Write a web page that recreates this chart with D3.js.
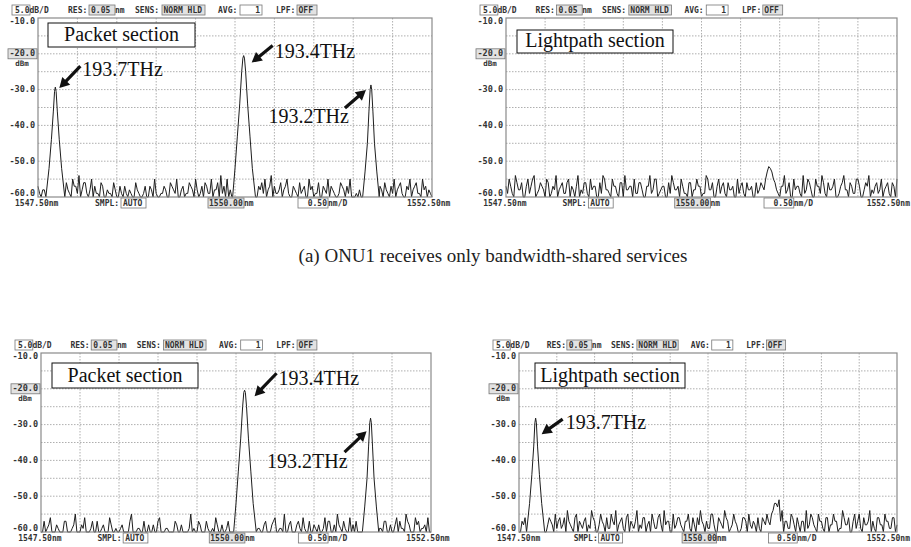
<!DOCTYPE html>
<html><head><meta charset="utf-8">
<script src="https://cdn.jsdelivr.net/npm/d3@7"></script>
<style>body{margin:0;background:#fff}svg{display:block}</style>
</head><body>
<svg id="c" width="911" height="547"></svg>
<script>
// ---------- data ----------
const wlDomain = [1547.5, 1552.5];
const dbDomain = [-60, -10];
const yTickValues = [-10, -20, -30, -40, -50, -60];
const yTickLabels = ["-10.0", "-20.0", "-30.0", "-40.0", "-50.0", "-60.0"];
const headerTexts = ["5.0", "dB/D", "RES:", "0.05", "nm", "SENS:", "NORM HLD", "AVG:", "1", "LPF:", "OFF"];
const bottomTexts = ["1547.50nm", "SMPL:", "AUTO", "1550.00", "nm", "0.50", "nm/D", "1552.50nm"];
const unitLabel = "dBm";
const boxLabels = ["Packet section", "Lightpath section", "Packet section", "Lightpath section"];
const caption = "(a) ONU1 receives only bandwidth-shared services";

// noise floor samples on a 0.04 nm grid (1547.50 - 1552.50 nm)
const noiseTL = [
-57,-60,-58,
-60,-60,-60,-60,-60,-60,
-56,-59,-55,-57,-54,-58,-56,-60,-55,-57,-59,-56,
-60,-58,-59,-56,-60,-57,-60,-59,-58,-60,-56,-59,-60,-57,-60,-58,-55,-60,-59,-57,
-60,-56,-58,-55,-60,-57,-59,-56,-58,-55,-60,-57,-56,-59,-55,-58,-56,-54,-57,-55,-58,
-60,-60,-60,-60,-60,-60,-60,
-60,-57,-56,-55,-58,-54,-57,-59,-56,-58,-55,-60,-57,-59,-56,-58,-60,-55,-57,-59,-56,-60,-58,-55,-57,-59,-60,-56,-58,-57,-55,-60,-59,-58,
-60,-60,-60,-60,-60,
-60,-58,-56,-59,-57,-55,-58,-56,-60,-57,-55,-58,-56,-59,-55,-57,-58,-60];
const noiseTR = [
-57,-55,-59,-54,-58,-56,-60,-55,-57,-54,-59,-56,-58,-55,-60,-57,-54,-58,-56,-59,
-55,-57,-60,-54,-58,-56,-59,-55,-57,-60,-56,-54,-58,-59,-55,-57,-60,-56,-54,-58,
-57,-55,-59,-56,-60,-57,-54,-58,-55,-59,-57,-60,-56,-54,-58,-57,-55,-59,-60,-56,
-58,-55,-57,-59,-54,-58,-56,-60,-55,-57,-59,-56,-58,-60,-55,-57,-59,-56,-58,-60,
-56,-58,-57,-55,-51.5,-53,-56,-59,-57,-54,-58,-60,-55,-57,-59,-54,-58,-56,-60,-55,
-57,-54,-59,-56,-58,-55,-60,-57,-54,-58,-56,-59,-55,-57,-60,-56,-54,-58,-57,-59,
-55,-58,-56,-60,-57,-55];
const noiseBL = [
-60,-57,-59,-56,-60,-58,-60,-60,-57,-60,-59,-55,-60,-58,-56,-60,-59,-60,-57,-60,-58,
-60,-56,-60,-59,-60,-58,-60,-60,-55,-60,-59,-60,-57,-60,-60,-58,-60,-56,-60,-59,-60,-60,-57,-60,-58,-60,-60,-55,-59,-60,-58,-60,-57,-60,-59,-56,-60,-58,-60,-57,-60,
-60,-60,-60,-60,-60,-60,-60,
-60,-59,-60,-57,-60,-58,-56,-60,-59,-55,-60,-57,-60,-58,-59,-56,-60,-57,-60,-59,-58,-60,-56,-57,-60,-58,-55,-59,-57,-60,-56,-58,-57,-60,
-60,-60,-60,-60,-60,
-60,-59,-57,-60,-58,-60,-56,-57,-59,-55,-58,-60,-56,-57,-59,-58,-56,-60];
const noiseBR = [
-60,-57,-56,
-60,-60,-60,-60,-60,-60,
-60,-56,-58,-55,-57,-59,-56,-54,-58,-60,-55,-57,
-59,-56,-58,-54,-57,-60,-55,-58,-56,-59,-57,-54,-58,-56,-60,-55,-57,-59,-54,-58,
-56,-60,-57,-55,-59,-56,-58,-54,-57,-60,-55,-58,-56,-59,-57,-55,-60,-58,-56,-54,
-58,-57,-59,-55,-60,-56,-58,-54,-57,-59,-55,-58,-60,-56,-57,-55,-59,-58,-56,-60,
-57,-55,-58,-54,-52,-51,-54,-57,-59,-55,-58,-56,-60,-57,-54,-58,-56,-59,-55,-57,
-60,-56,-58,-55,-57,-59,-54,-58,-56,-60,-55,-57,-59,-56,-58,-54,-57,-60,-56,-58,
-55,-57,-59,-56,-58];
// samples half-way between the grid points above
const midTL = [
-59,-58,-60,-60,-60,-60,-60,-60,-60,-58,-60,-57,-59,-60,-56,-59,-58,-60,-59,-60,-57,-60,-59,-60,-58,
-60,-59,-57,-60,-59,-60,-58,-60,-59,-60,-57,-60,-59,-60,-59,-58,-60,-57,-59,-60,-58,-60,-59,-57,-60,
-58,-59,-60,-57,-59,-60,-58,-60,-59,-60,-60,-60,-60,-60,-60,-60,-60,-60,-59,-60,-58,-59,-60,-57,-60,
-59,-58,-60,-57,-59,-60,-58,-60,-59,-57,-60,-58,-60,-59,-60,-57,-59,-60,-58,-60,-59,-57,-60,-59,-60,
-60,-60,-60,-60,-60,-58,-60,-59,-57,-60,-58,-60,-59,-60,-57,-59,-60,-58,-60,-57,-59,-60,-58,-60,-59];
const midTR = [
-59,-57,-60,-56,-58,-60,-57,-59,-55,-60,-58,-57,-60,-56,-59,-58,-60,-57,-59,-56,-60,-58,-57,-60,-59,
-56,-60,-58,-57,-60,-59,-55,-58,-60,-57,-59,-56,-60,-58,-57,-60,-59,-56,-58,-60,-57,-59,-55,-60,-58,
-57,-60,-59,-56,-58,-60,-57,-59,-56,-60,-58,-57,-60,-59,-55,-58,-60,-57,-59,-56,-60,-58,-57,-60,-59,
-56,-60,-58,-57,-60,-59,-56,-58,-53,-52,-55,-58,-60,-57,-59,-56,-60,-58,-57,-60,-59,-55,-58,-60,-57,
-59,-56,-60,-58,-57,-60,-59,-56,-58,-60,-57,-59,-55,-60,-58,-57,-60,-59,-56,-58,-60,-57,-59,-56,-60];
const midBL = [
-60,-60,-58,-60,-60,-59,-60,-57,-60,-60,-58,-60,-60,-59,-60,-60,-57,-60,-60,-59,-60,-60,-58,-60,-60,
-59,-60,-60,-57,-60,-60,-59,-60,-60,-58,-60,-60,-57,-60,-60,-59,-60,-60,-58,-60,-60,-60,-59,-60,-60,
-57,-60,-60,-59,-60,-60,-58,-60,-60,-59,-60,-60,-60,-60,-60,-60,-60,-60,-60,-59,-60,-58,-60,-60,-57,
-60,-59,-60,-60,-58,-60,-60,-57,-60,-59,-60,-60,-58,-60,-60,-59,-60,-57,-60,-60,-58,-60,-59,-60,-60,
-60,-60,-60,-60,-60,-58,-60,-60,-59,-60,-57,-60,-60,-58,-60,-59,-60,-57,-60,-60,-58,-60,-59,-60,-60];
const midBR = [
-60,-58,-59,-60,-60,-60,-60,-60,-60,-58,-57,-60,-59,-56,-58,-60,-57,-59,-56,-60,-58,-57,-60,-59,-56,
-60,-58,-57,-60,-59,-55,-58,-60,-57,-59,-56,-60,-58,-57,-60,-59,-56,-58,-60,-57,-59,-55,-60,-58,-57,
-60,-59,-56,-58,-60,-57,-59,-56,-60,-58,-57,-60,-59,-55,-58,-60,-57,-59,-56,-60,-58,-57,-60,-59,-56,
-60,-58,-57,-60,-59,-56,-58,-57,-55,-52,-53,-57,-60,-57,-59,-56,-60,-58,-57,-60,-59,-55,-58,-60,-57,
-59,-56,-60,-58,-57,-60,-59,-56,-58,-60,-57,-59,-55,-60,-58,-57,-60,-59,-56,-58,-60,-57,-59,-56,-60];

// channel peaks [wavelength nm, power dBm]
const peak1937TL = [[1547.60,-60],[1547.64,-52],[1547.67,-44],[1547.695,-36],[1547.71,-30.5],[1547.72,-29.3],[1547.73,-30.5],[1547.745,-36],[1547.77,-44],[1547.80,-52],[1547.84,-60]];
const peak1934TL = [[1549.97,-60],[1550.00,-52],[1550.03,-43],[1550.06,-34],[1550.085,-25],[1550.10,-21.2],[1550.11,-20.5],[1550.12,-21.2],[1550.135,-25],[1550.16,-34],[1550.19,-43],[1550.22,-52],[1550.26,-60]];
const peak1932TL = [[1551.62,-60],[1551.65,-53],[1551.68,-45],[1551.70,-36],[1551.715,-30],[1551.725,-28.7],[1551.735,-30],[1551.75,-36],[1551.77,-45],[1551.80,-53],[1551.83,-60]];
const peak1934BL = [[1549.97,-60],[1550.00,-52],[1550.03,-43],[1550.06,-34],[1550.085,-25],[1550.10,-21.0],[1550.11,-20.4],[1550.12,-21.0],[1550.135,-25],[1550.16,-34],[1550.19,-43],[1550.22,-52],[1550.26,-60]];
const peak1932BL = [[1551.62,-60],[1551.65,-53],[1551.68,-45],[1551.70,-36],[1551.715,-29.5],[1551.725,-28.2],[1551.735,-29.5],[1551.75,-36],[1551.77,-45],[1551.80,-53],[1551.83,-60]];
const peak1937BR = [[1547.60,-60],[1547.64,-52],[1547.67,-44],[1547.695,-36],[1547.71,-29.5],[1547.72,-28.2],[1547.73,-29.5],[1547.745,-36],[1547.77,-44],[1547.80,-52],[1547.84,-60]];
const peakLabels = ["193.7THz", "193.4THz", "193.2THz"];

// ---------- layout ----------
const svg = d3.select("#c");
const monoFont = "'DejaVu Sans Mono', monospace";
const serifFont = "'Liberation Serif', 'Times New Roman', serif";
const W = 911;

const panels = [
  {left:38, right:432, top:18, bottom:197, noise:noiseTL, mid:midTL, peaks:[peak1937TL,peak1934TL,peak1932TL], box:[48,23,195,47], label:boxLabels[0],
   ann:[{p:0,t:peakLabels[0],tip:[4,1],tail:[25,-21],txt:[27,-11],anchor:"start"},
        {p:1,t:peakLabels[1],tip:[8,7],tail:[29,-10],txt:[31,2],anchor:"start"},
        {p:2,t:peakLabels[2],tip:[-5,5],tail:[-26,23],txt:[-22,38],anchor:"end"}]},
  {left:506, right:897, top:18, bottom:197, noise:noiseTR, mid:midTR, peaks:[], box:[517,30,673,53], label:boxLabels[1], ann:[]},
  {left:41, right:431, top:353, bottom:532, noise:noiseBL, mid:midBL, peaks:[peak1934BL,peak1932BL], box:[52,363,198,388], label:boxLabels[2],
   ann:[{p:0,t:peakLabels[1],tip:[10,6],tail:[32,-17],txt:[34,-5],anchor:"start"},
        {p:1,t:peakLabels[2],tip:[-4,13],tail:[-26,34],txt:[-23,50],anchor:"end"}]},
  {left:519, right:897, top:353, bottom:532, noise:noiseBR, mid:midBR, peaks:[peak1937BR], box:[535,363,685,388], label:boxLabels[3],
   ann:[{p:0,t:peakLabels[0],tip:[6,16],tail:[27,1],txt:[30,11],anchor:"start"}]}
];

function monoText(g, x, y, s, anchor) {
  return g.append("text").attr("x", x).attr("y", y).attr("text-anchor", anchor || "start")
    .attr("dominant-baseline", "middle").attr("font-family", monoFont).attr("font-weight", "bold")
    .attr("font-size", 8).attr("fill", "#333").text(s);
}
function smallBox(g, x0, x1, yc, fill) {
  g.append("rect").attr("x", x0).attr("y", yc - 5).attr("width", x1 - x0).attr("height", 10)
    .attr("fill", fill).attr("stroke", "#777").attr("stroke-width", 0.8);
}

panels.forEach(P => {
  const g = svg.append("g");
  const x = d3.scaleLinear().domain(wlDomain).range([P.left, P.right]);
  const y = d3.scaleLinear().domain(dbDomain).range([P.bottom, P.top]);
  const s = (P.right - P.left) / 394;

  // grid
  const vTicks = d3.range(1, 10).map(i => wlDomain[0] + i * 0.5);
  g.selectAll(".vg").data(vTicks).join("line")
    .attr("x1", d => x(d)).attr("x2", d => x(d)).attr("y1", P.top).attr("y2", P.bottom)
    .attr("stroke", "#9a9a9a").attr("stroke-width", 0.8).attr("stroke-dasharray", "1.5,1.5");
  const hTicks = d3.range(1, 10).map(i => dbDomain[0] + i * 5);
  g.selectAll(".hg").data(hTicks).join("line")
    .attr("x1", P.left).attr("x2", P.right).attr("y1", d => y(d)).attr("y2", d => y(d))
    .attr("stroke", "#9a9a9a").attr("stroke-width", 0.8).attr("stroke-dasharray", "1.5,1.5");

  // trace
  const n = P.noise.length;
  const step = (wlDomain[1] - wlDomain[0]) / (n - 1);
  let pts = P.noise.map((v, i) => [wlDomain[0] + i * step, v])
    .concat(P.mid.map((v, i) => [wlDomain[0] + (i + 0.5) * step, v]))
    .filter(p => !P.peaks.some(pk => p[0] >= pk[0][0] - 1e-9 && p[0] <= pk[pk.length - 1][0] + 1e-9));
  P.peaks.forEach(pk => { pts = pts.concat(pk); });
  pts.sort((a, b) => a[0] - b[0]);
  const line = d3.line().x(d => x(d[0])).y(d => y(Math.max(d[1], dbDomain[0])));
  g.append("path").attr("d", line(pts)).attr("fill", "none").attr("stroke", "#1e1e1e")
    .attr("stroke-width", 1).attr("stroke-linejoin", "round");

  // border
  g.append("rect").attr("x", P.left).attr("y", P.top).attr("width", P.right - P.left)
    .attr("height", P.bottom - P.top).attr("fill", "none").attr("stroke", "#8a8a8a").attr("stroke-width", 1.2);

  // y labels
  yTickValues.forEach((v, i) => {
    let yy = y(v);
    if (i === 0) yy += 3;
    if (i === yTickValues.length - 1) yy -= 4;
    if (v === -20) smallBox(g, P.left - 30, P.left - 1, yy, "#e2e2e2");
    monoText(g, P.left - 3, yy, yTickLabels[i], "end").attr("font-size", 8.5);
  });
  monoText(g, P.left - 16, y(-20) + 10, unitLabel, "middle").attr("font-size", 7.5);

  // header
  const hy = P.top - 8;
  const hx = v => P.left - 26 + v * s;
  smallBox(g, hx(0), hx(18), hy, "#fff");
  monoText(g, hx(3), hy, headerTexts[0] + headerTexts[1]);
  monoText(g, hx(56), hy, headerTexts[2]);
  smallBox(g, hx(77), hx(103), hy, "#e2e2e2");
  monoText(g, hx(79), hy, headerTexts[3]);
  monoText(g, hx(103), hy, headerTexts[4]);
  monoText(g, hx(123), hy, headerTexts[5]);
  smallBox(g, hx(150), hx(193), hy, "#e2e2e2");
  monoText(g, hx(151.5), hy, headerTexts[6]);
  monoText(g, hx(206), hy, headerTexts[7]);
  smallBox(g, hx(228), hx(250), hy, "#fff");
  monoText(g, hx(248), hy, headerTexts[8], "end");
  monoText(g, hx(264), hy, headerTexts[9]);
  smallBox(g, hx(285), hx(305), hy, "#e2e2e2");
  monoText(g, hx(286.5), hy, headerTexts[10]);

  // bottom labels
  const by = P.bottom + 6;
  const bx = v => P.left + v * s;
  monoText(g, bx(-23), by, bottomTexts[0]);
  monoText(g, bx(57), by, bottomTexts[1]);
  smallBox(g, bx(83), bx(108), by, "#fff");
  monoText(g, bx(85), by, bottomTexts[2]);
  smallBox(g, bx(170), bx(206), by, "#e2e2e2");
  monoText(g, bx(171), by, bottomTexts[3]);
  monoText(g, bx(206), by, bottomTexts[4]);
  smallBox(g, bx(260), bx(290), by, "#fff");
  monoText(g, bx(289), by, bottomTexts[5], "end");
  monoText(g, bx(290), by, bottomTexts[6]);
  const endLbl = monoText(g, P.right - 25 * s, by, bottomTexts[7]);
  const bb = endLbl.node().getBBox();
  if (bb.x + bb.width > W - 1) endLbl.attr("x", W - 1).attr("text-anchor", "end");

  // section box
  const b = P.box;
  g.append("rect").attr("x", b[0]).attr("y", b[1]).attr("width", b[2] - b[0]).attr("height", b[3] - b[1])
    .attr("fill", "#fff").attr("stroke", "#111").attr("stroke-width", 1);
  g.append("text").attr("x", (b[0] + b[2]) / 2).attr("y", b[3] - 6).attr("text-anchor", "middle")
    .attr("font-family", serifFont).attr("font-size", 20).attr("fill", "#111").text(P.label);

  // arrows and frequency labels
  P.ann.forEach(a => {
    const pk = P.peaks[a.p];
    const top = pk.reduce((m, d) => d[1] > m[1] ? d : m, pk[0]);
    const px = x(top[0]), py = y(top[1]);
    const tip = [px + a.tip[0], py + a.tip[1]], tail = [px + a.tail[0], py + a.tail[1]];
    const dx = tip[0] - tail[0], dy = tip[1] - tail[1], L = Math.hypot(dx, dy);
    const ux = dx / L, uy = dy / L, hl = 10, hw = 5.5;
    const bxp = tip[0] - ux * hl, byp = tip[1] - uy * hl;
    g.append("line").attr("x1", tail[0]).attr("y1", tail[1]).attr("x2", bxp + ux).attr("y2", byp + uy)
      .attr("stroke", "#111").attr("stroke-width", 3.2);
    g.append("path").attr("d", `M${tip[0]},${tip[1]}L${bxp - uy * hw},${byp + ux * hw}L${bxp + uy * hw},${byp - ux * hw}Z`)
      .attr("fill", "#111");
    g.append("text").attr("x", px + a.txt[0]).attr("y", py + a.txt[1]).attr("text-anchor", a.anchor)
      .attr("font-family", serifFont).attr("font-size", 20).attr("fill", "#111").text(a.t);
  });
});

svg.append("text").attr("x", 493).attr("y", 262).attr("text-anchor", "middle")
  .attr("font-family", serifFont).attr("font-size", 19).attr("fill", "#222").text(caption);
</script>
</body></html>
